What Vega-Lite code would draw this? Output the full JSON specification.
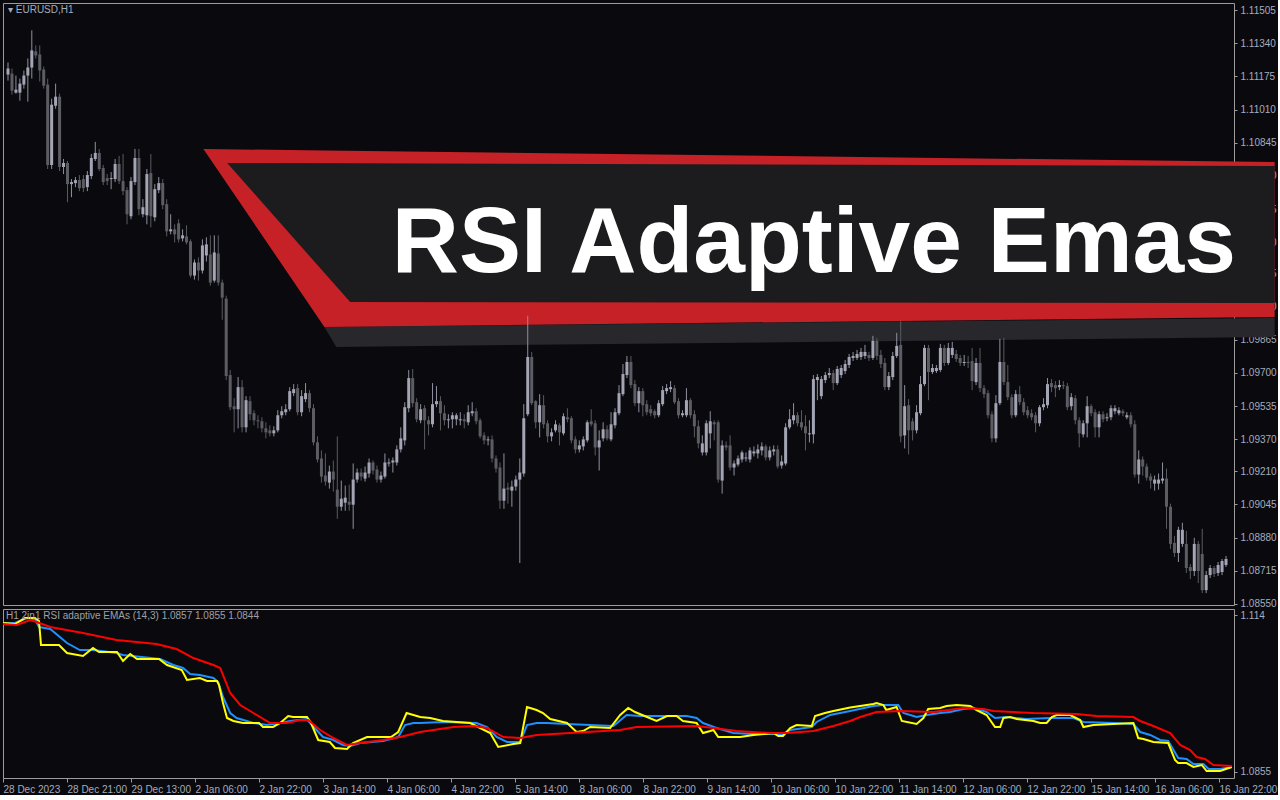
{
"$schema": "https://vega.github.io/schema/vega-lite/v6.json",
"background": "#0a0a0e",
"padding": {"left": -2, "top": 2, "right": 0, "bottom": 0},
"spacing": 4,
"bounds": "flush",
"resolve": {"scale": {"x": "independent", "y": "independent"}},
"config": {"view": {"stroke": "#9c9c9c", "strokeWidth": 1, "fill": "#0a0a0e"}, "axis": {"labelOverlap": false, "labelFlush": false, "labelBound": false}},
"datasets": {
"candles": [
{"i":0,"o":1.11184,"h":1.11244,"l":1.11154,"c":1.11214},
{"i":1,"o":1.11189,"h":1.11214,"l":1.11084,"c":1.11104},
{"i":2,"o":1.11094,"h":1.11179,"l":1.11089,"c":1.11109},
{"i":3,"o":1.11094,"h":1.11164,"l":1.11054,"c":1.11139},
{"i":4,"o":1.11134,"h":1.11204,"l":1.11114,"c":1.11179},
{"i":5,"o":1.11179,"h":1.11264,"l":1.11049,"c":1.11219},
{"i":6,"o":1.11219,"h":1.11404,"l":1.11164,"c":1.11304},
{"i":7,"o":1.11299,"h":1.11329,"l":1.11264,"c":1.11279},
{"i":8,"o":1.11284,"h":1.11329,"l":1.11149,"c":1.11204},
{"i":9,"o":1.11209,"h":1.11224,"l":1.11114,"c":1.11129},
{"i":10,"o":1.11134,"h":1.11164,"l":1.10714,"c":1.10734},
{"i":11,"o":1.10734,"h":1.11064,"l":1.10714,"c":1.11034},
{"i":12,"o":1.11029,"h":1.11139,"l":1.11014,"c":1.11074},
{"i":13,"o":1.11074,"h":1.11089,"l":1.10704,"c":1.10724},
{"i":14,"o":1.10724,"h":1.10764,"l":1.10689,"c":1.10744},
{"i":15,"o":1.10744,"h":1.10754,"l":1.10549,"c":1.10639},
{"i":16,"o":1.10639,"h":1.10664,"l":1.10574,"c":1.10649},
{"i":17,"o":1.10644,"h":1.10674,"l":1.10624,"c":1.10659},
{"i":18,"o":1.10659,"h":1.10684,"l":1.10604,"c":1.10619},
{"i":19,"o":1.10664,"h":1.10684,"l":1.10599,"c":1.10619},
{"i":20,"o":1.10624,"h":1.10704,"l":1.10604,"c":1.10684},
{"i":21,"o":1.10679,"h":1.10789,"l":1.10664,"c":1.10769},
{"i":22,"o":1.10764,"h":1.10849,"l":1.10754,"c":1.10794},
{"i":23,"o":1.10794,"h":1.10814,"l":1.10704,"c":1.10714},
{"i":24,"o":1.10719,"h":1.10734,"l":1.10634,"c":1.10649},
{"i":25,"o":1.10669,"h":1.10689,"l":1.10634,"c":1.10654},
{"i":26,"o":1.10664,"h":1.10699,"l":1.10614,"c":1.10669},
{"i":27,"o":1.10664,"h":1.10764,"l":1.10649,"c":1.10739},
{"i":28,"o":1.10739,"h":1.10779,"l":1.10639,"c":1.10654},
{"i":29,"o":1.10654,"h":1.10789,"l":1.10584,"c":1.10604},
{"i":30,"o":1.10609,"h":1.10624,"l":1.10439,"c":1.10489},
{"i":31,"o":1.10479,"h":1.10674,"l":1.10464,"c":1.10654},
{"i":32,"o":1.10649,"h":1.10814,"l":1.10634,"c":1.10769},
{"i":33,"o":1.10769,"h":1.10814,"l":1.10484,"c":1.10514},
{"i":34,"o":1.10489,"h":1.10564,"l":1.10474,"c":1.10524},
{"i":35,"o":1.10484,"h":1.10714,"l":1.10439,"c":1.10689},
{"i":36,"o":1.10694,"h":1.10789,"l":1.10424,"c":1.10479},
{"i":37,"o":1.10474,"h":1.10639,"l":1.10454,"c":1.10614},
{"i":38,"o":1.10609,"h":1.10674,"l":1.10594,"c":1.10644},
{"i":39,"o":1.10644,"h":1.10664,"l":1.10514,"c":1.10534},
{"i":40,"o":1.10539,"h":1.10564,"l":1.10379,"c":1.10404},
{"i":41,"o":1.10404,"h":1.10489,"l":1.10389,"c":1.10414},
{"i":42,"o":1.10414,"h":1.10439,"l":1.10349,"c":1.10389},
{"i":43,"o":1.10444,"h":1.10464,"l":1.10349,"c":1.10364},
{"i":44,"o":1.10369,"h":1.10414,"l":1.10354,"c":1.10384},
{"i":45,"o":1.10379,"h":1.10434,"l":1.10339,"c":1.10349},
{"i":46,"o":1.10354,"h":1.10364,"l":1.10174,"c":1.10184},
{"i":47,"o":1.10184,"h":1.10264,"l":1.10164,"c":1.10249},
{"i":48,"o":1.10249,"h":1.10274,"l":1.10159,"c":1.10209},
{"i":49,"o":1.10209,"h":1.10364,"l":1.10194,"c":1.10334},
{"i":50,"o":1.10284,"h":1.10374,"l":1.10254,"c":1.10339},
{"i":51,"o":1.10289,"h":1.10384,"l":1.10134,"c":1.10149},
{"i":52,"o":1.10159,"h":1.10384,"l":1.10149,"c":1.10299},
{"i":53,"o":1.10294,"h":1.10384,"l":1.10134,"c":1.10149},
{"i":54,"o":1.10149,"h":1.10164,"l":1.09964,"c":1.10074},
{"i":55,"o":1.10069,"h":1.10084,"l":1.09664,"c":1.09684},
{"i":56,"o":1.09689,"h":1.09714,"l":1.09514,"c":1.09529},
{"i":57,"o":1.09534,"h":1.09574,"l":1.09404,"c":1.09519},
{"i":58,"o":1.09519,"h":1.09679,"l":1.09424,"c":1.09629},
{"i":59,"o":1.09629,"h":1.09664,"l":1.09404,"c":1.09429},
{"i":60,"o":1.09429,"h":1.09584,"l":1.09404,"c":1.09564},
{"i":61,"o":1.09559,"h":1.09584,"l":1.09464,"c":1.09494},
{"i":62,"o":1.09499,"h":1.09514,"l":1.09439,"c":1.09464},
{"i":63,"o":1.09464,"h":1.09489,"l":1.09424,"c":1.09459},
{"i":64,"o":1.09459,"h":1.09479,"l":1.09404,"c":1.09424},
{"i":65,"o":1.09424,"h":1.09454,"l":1.09374,"c":1.09404},
{"i":66,"o":1.09414,"h":1.09439,"l":1.09384,"c":1.09399},
{"i":67,"o":1.09399,"h":1.09434,"l":1.09384,"c":1.09414},
{"i":68,"o":1.09414,"h":1.09514,"l":1.09404,"c":1.09489},
{"i":69,"o":1.09489,"h":1.09534,"l":1.09474,"c":1.09509},
{"i":70,"o":1.09504,"h":1.09544,"l":1.09489,"c":1.09519},
{"i":71,"o":1.09519,"h":1.09629,"l":1.09509,"c":1.09609},
{"i":72,"o":1.09599,"h":1.09644,"l":1.09584,"c":1.09619},
{"i":73,"o":1.09624,"h":1.09644,"l":1.09489,"c":1.09504},
{"i":74,"o":1.09504,"h":1.09614,"l":1.09484,"c":1.09584},
{"i":75,"o":1.09569,"h":1.09649,"l":1.09554,"c":1.09599},
{"i":76,"o":1.09599,"h":1.09614,"l":1.09504,"c":1.09524},
{"i":77,"o":1.09524,"h":1.09544,"l":1.09339,"c":1.09354},
{"i":78,"o":1.09354,"h":1.09384,"l":1.09254,"c":1.09269},
{"i":79,"o":1.09274,"h":1.09314,"l":1.09154,"c":1.09184},
{"i":80,"o":1.09189,"h":1.09299,"l":1.09139,"c":1.09159},
{"i":81,"o":1.09154,"h":1.09239,"l":1.09124,"c":1.09209},
{"i":82,"o":1.09209,"h":1.09264,"l":1.09109,"c":1.09169},
{"i":83,"o":1.09119,"h":1.09384,"l":1.08974,"c":1.09034},
{"i":84,"o":1.09034,"h":1.09164,"l":1.09014,"c":1.09074},
{"i":85,"o":1.09054,"h":1.09139,"l":1.09014,"c":1.09079},
{"i":86,"o":1.09059,"h":1.09144,"l":1.09014,"c":1.09044},
{"i":87,"o":1.09044,"h":1.09249,"l":1.08924,"c":1.09169},
{"i":88,"o":1.09169,"h":1.09224,"l":1.09154,"c":1.09204},
{"i":89,"o":1.09204,"h":1.09224,"l":1.09164,"c":1.09184},
{"i":90,"o":1.09174,"h":1.09234,"l":1.09159,"c":1.09204},
{"i":91,"o":1.09199,"h":1.09274,"l":1.09179,"c":1.09254},
{"i":92,"o":1.09254,"h":1.09264,"l":1.09194,"c":1.09214},
{"i":93,"o":1.09219,"h":1.09239,"l":1.09154,"c":1.09169},
{"i":94,"o":1.09169,"h":1.09209,"l":1.09154,"c":1.09189},
{"i":95,"o":1.09184,"h":1.09299,"l":1.09174,"c":1.09254},
{"i":96,"o":1.09249,"h":1.09274,"l":1.09234,"c":1.09254},
{"i":97,"o":1.09254,"h":1.09279,"l":1.09204,"c":1.09264},
{"i":98,"o":1.09254,"h":1.09339,"l":1.09239,"c":1.09319},
{"i":99,"o":1.09319,"h":1.09429,"l":1.09304,"c":1.09374},
{"i":100,"o":1.09364,"h":1.09554,"l":1.09339,"c":1.09529},
{"i":101,"o":1.09524,"h":1.09714,"l":1.09504,"c":1.09674},
{"i":102,"o":1.09674,"h":1.09719,"l":1.09529,"c":1.09549},
{"i":103,"o":1.09554,"h":1.09574,"l":1.09454,"c":1.09469},
{"i":104,"o":1.09464,"h":1.09544,"l":1.09449,"c":1.09519},
{"i":105,"o":1.09524,"h":1.09539,"l":1.09319,"c":1.09464},
{"i":106,"o":1.09464,"h":1.09484,"l":1.09389,"c":1.09444},
{"i":107,"o":1.09444,"h":1.09649,"l":1.09429,"c":1.09544},
{"i":108,"o":1.09544,"h":1.09634,"l":1.09529,"c":1.09559},
{"i":109,"o":1.09559,"h":1.09584,"l":1.09414,"c":1.09499},
{"i":110,"o":1.09499,"h":1.09539,"l":1.09439,"c":1.09464},
{"i":111,"o":1.09464,"h":1.09494,"l":1.09424,"c":1.09469},
{"i":112,"o":1.09469,"h":1.09504,"l":1.09424,"c":1.09489},
{"i":113,"o":1.09469,"h":1.09499,"l":1.09439,"c":1.09489},
{"i":114,"o":1.09464,"h":1.09504,"l":1.09439,"c":1.09469},
{"i":115,"o":1.09469,"h":1.09494,"l":1.09424,"c":1.09459},
{"i":116,"o":1.09454,"h":1.09539,"l":1.09439,"c":1.09504},
{"i":117,"o":1.09499,"h":1.09554,"l":1.09484,"c":1.09509},
{"i":118,"o":1.09509,"h":1.09524,"l":1.09444,"c":1.09459},
{"i":119,"o":1.09464,"h":1.09474,"l":1.09374,"c":1.09384},
{"i":120,"o":1.09389,"h":1.09404,"l":1.09344,"c":1.09364},
{"i":121,"o":1.09364,"h":1.09384,"l":1.09339,"c":1.09369},
{"i":122,"o":1.09369,"h":1.09389,"l":1.09254,"c":1.09274},
{"i":123,"o":1.09274,"h":1.09289,"l":1.09204,"c":1.09224},
{"i":124,"o":1.09229,"h":1.09254,"l":1.09024,"c":1.09064},
{"i":125,"o":1.09064,"h":1.09299,"l":1.09024,"c":1.09124},
{"i":126,"o":1.09129,"h":1.09154,"l":1.09049,"c":1.09119},
{"i":127,"o":1.09114,"h":1.09164,"l":1.09034,"c":1.09134},
{"i":128,"o":1.09134,"h":1.09189,"l":1.09114,"c":1.09169},
{"i":129,"o":1.09169,"h":1.09274,"l":1.08754,"c":1.09204},
{"i":130,"o":1.09199,"h":1.09544,"l":1.09184,"c":1.09474},
{"i":131,"o":1.09494,"h":1.09984,"l":1.09484,"c":1.09779},
{"i":132,"o":1.09779,"h":1.09804,"l":1.09539,"c":1.09549},
{"i":133,"o":1.09559,"h":1.09564,"l":1.09424,"c":1.09454},
{"i":134,"o":1.09454,"h":1.09594,"l":1.09379,"c":1.09539},
{"i":135,"o":1.09539,"h":1.09589,"l":1.09424,"c":1.09444},
{"i":136,"o":1.09449,"h":1.09464,"l":1.09354,"c":1.09384},
{"i":137,"o":1.09384,"h":1.09424,"l":1.09359,"c":1.09404},
{"i":138,"o":1.09414,"h":1.09464,"l":1.09404,"c":1.09444},
{"i":139,"o":1.09439,"h":1.09449,"l":1.09339,"c":1.09404},
{"i":140,"o":1.09399,"h":1.09499,"l":1.09389,"c":1.09484},
{"i":141,"o":1.09479,"h":1.09524,"l":1.09454,"c":1.09469},
{"i":142,"o":1.09474,"h":1.09484,"l":1.09349,"c":1.09364},
{"i":143,"o":1.09369,"h":1.09384,"l":1.09299,"c":1.09319},
{"i":144,"o":1.09319,"h":1.09364,"l":1.09304,"c":1.09339},
{"i":145,"o":1.09334,"h":1.09384,"l":1.09314,"c":1.09369},
{"i":146,"o":1.09364,"h":1.09464,"l":1.09354,"c":1.09454},
{"i":147,"o":1.09459,"h":1.09519,"l":1.09434,"c":1.09444},
{"i":148,"o":1.09449,"h":1.09464,"l":1.09289,"c":1.09329},
{"i":149,"o":1.09329,"h":1.09414,"l":1.09214,"c":1.09364},
{"i":150,"o":1.09374,"h":1.09454,"l":1.09359,"c":1.09419},
{"i":151,"o":1.09419,"h":1.09439,"l":1.09364,"c":1.09374},
{"i":152,"o":1.09369,"h":1.09504,"l":1.09359,"c":1.09444},
{"i":153,"o":1.09439,"h":1.09524,"l":1.09424,"c":1.09504},
{"i":154,"o":1.09499,"h":1.09639,"l":1.09489,"c":1.09599},
{"i":155,"o":1.09594,"h":1.09744,"l":1.09584,"c":1.09694},
{"i":156,"o":1.09689,"h":1.09784,"l":1.09674,"c":1.09754},
{"i":157,"o":1.09754,"h":1.09784,"l":1.09624,"c":1.09639},
{"i":158,"o":1.09644,"h":1.09664,"l":1.09534,"c":1.09549},
{"i":159,"o":1.09549,"h":1.09629,"l":1.09504,"c":1.09609},
{"i":160,"o":1.09609,"h":1.09624,"l":1.09484,"c":1.09539},
{"i":161,"o":1.09544,"h":1.09564,"l":1.09489,"c":1.09504},
{"i":162,"o":1.09519,"h":1.09539,"l":1.09484,"c":1.09499},
{"i":163,"o":1.09509,"h":1.09519,"l":1.09474,"c":1.09489},
{"i":164,"o":1.09489,"h":1.09564,"l":1.09479,"c":1.09549},
{"i":165,"o":1.09544,"h":1.09634,"l":1.09534,"c":1.09614},
{"i":166,"o":1.09609,"h":1.09644,"l":1.09594,"c":1.09624},
{"i":167,"o":1.09619,"h":1.09659,"l":1.09604,"c":1.09629},
{"i":168,"o":1.09624,"h":1.09639,"l":1.09544,"c":1.09554},
{"i":169,"o":1.09559,"h":1.09574,"l":1.09474,"c":1.09489},
{"i":170,"o":1.09489,"h":1.09514,"l":1.09479,"c":1.09499},
{"i":171,"o":1.09489,"h":1.09624,"l":1.09479,"c":1.09564},
{"i":172,"o":1.09564,"h":1.09574,"l":1.09474,"c":1.09489},
{"i":173,"o":1.09494,"h":1.09514,"l":1.09379,"c":1.09434},
{"i":174,"o":1.09434,"h":1.09464,"l":1.09324,"c":1.09349},
{"i":175,"o":1.09304,"h":1.09389,"l":1.09289,"c":1.09349},
{"i":176,"o":1.09304,"h":1.09464,"l":1.09289,"c":1.09449},
{"i":177,"o":1.09399,"h":1.09509,"l":1.09324,"c":1.09459},
{"i":178,"o":1.09454,"h":1.09464,"l":1.09364,"c":1.09444},
{"i":179,"o":1.09454,"h":1.09464,"l":1.09154,"c":1.09169},
{"i":180,"o":1.09164,"h":1.09364,"l":1.09099,"c":1.09339},
{"i":181,"o":1.09339,"h":1.09359,"l":1.09314,"c":1.09329},
{"i":182,"o":1.09339,"h":1.09389,"l":1.09214,"c":1.09229},
{"i":183,"o":1.09229,"h":1.09264,"l":1.09189,"c":1.09249},
{"i":184,"o":1.09244,"h":1.09289,"l":1.09234,"c":1.09274},
{"i":185,"o":1.09269,"h":1.09314,"l":1.09254,"c":1.09304},
{"i":186,"o":1.09274,"h":1.09304,"l":1.09259,"c":1.09279},
{"i":187,"o":1.09269,"h":1.09329,"l":1.09254,"c":1.09314},
{"i":188,"o":1.09299,"h":1.09334,"l":1.09284,"c":1.09309},
{"i":189,"o":1.09299,"h":1.09344,"l":1.09274,"c":1.09319},
{"i":190,"o":1.09314,"h":1.09354,"l":1.09289,"c":1.09334},
{"i":191,"o":1.09334,"h":1.09344,"l":1.09264,"c":1.09279},
{"i":192,"o":1.09279,"h":1.09334,"l":1.09264,"c":1.09314},
{"i":193,"o":1.09309,"h":1.09339,"l":1.09289,"c":1.09319},
{"i":194,"o":1.09319,"h":1.09339,"l":1.09224,"c":1.09234},
{"i":195,"o":1.09239,"h":1.09289,"l":1.09224,"c":1.09259},
{"i":196,"o":1.09249,"h":1.09449,"l":1.09239,"c":1.09429},
{"i":197,"o":1.09429,"h":1.09519,"l":1.09419,"c":1.09469},
{"i":198,"o":1.09464,"h":1.09549,"l":1.09444,"c":1.09489},
{"i":199,"o":1.09489,"h":1.09504,"l":1.09434,"c":1.09449},
{"i":200,"o":1.09454,"h":1.09514,"l":1.09414,"c":1.09429},
{"i":201,"o":1.09434,"h":1.09489,"l":1.09314,"c":1.09399},
{"i":202,"o":1.09394,"h":1.09464,"l":1.09354,"c":1.09399},
{"i":203,"o":1.09394,"h":1.09689,"l":1.09349,"c":1.09669},
{"i":204,"o":1.09664,"h":1.09694,"l":1.09564,"c":1.09679},
{"i":205,"o":1.09584,"h":1.09684,"l":1.09569,"c":1.09669},
{"i":206,"o":1.09664,"h":1.09704,"l":1.09649,"c":1.09689},
{"i":207,"o":1.09689,"h":1.09724,"l":1.09674,"c":1.09699},
{"i":208,"o":1.09699,"h":1.09714,"l":1.09614,"c":1.09649},
{"i":209,"o":1.09649,"h":1.09734,"l":1.09639,"c":1.09719},
{"i":210,"o":1.09689,"h":1.09739,"l":1.09674,"c":1.09724},
{"i":211,"o":1.09709,"h":1.09764,"l":1.09694,"c":1.09744},
{"i":212,"o":1.09739,"h":1.09794,"l":1.09724,"c":1.09779},
{"i":213,"o":1.09774,"h":1.09804,"l":1.09759,"c":1.09784},
{"i":214,"o":1.09774,"h":1.09814,"l":1.09764,"c":1.09794},
{"i":215,"o":1.09779,"h":1.09824,"l":1.09764,"c":1.09804},
{"i":216,"o":1.09784,"h":1.09839,"l":1.09769,"c":1.09804},
{"i":217,"o":1.09789,"h":1.09804,"l":1.09759,"c":1.09774},
{"i":218,"o":1.09774,"h":1.09884,"l":1.09764,"c":1.09859},
{"i":219,"o":1.09859,"h":1.09874,"l":1.09764,"c":1.09784},
{"i":220,"o":1.09789,"h":1.09814,"l":1.09724,"c":1.09744},
{"i":221,"o":1.09749,"h":1.09774,"l":1.09614,"c":1.09629},
{"i":222,"o":1.09629,"h":1.09704,"l":1.09614,"c":1.09684},
{"i":223,"o":1.09679,"h":1.09804,"l":1.09664,"c":1.09784},
{"i":224,"o":1.09784,"h":1.09899,"l":1.09774,"c":1.09834},
{"i":225,"o":1.09839,"h":1.09959,"l":1.09354,"c":1.09384},
{"i":226,"o":1.09389,"h":1.09639,"l":1.09324,"c":1.09534},
{"i":227,"o":1.09539,"h":1.09569,"l":1.09294,"c":1.09414},
{"i":228,"o":1.09459,"h":1.09474,"l":1.09364,"c":1.09414},
{"i":229,"o":1.09414,"h":1.09539,"l":1.09399,"c":1.09504},
{"i":230,"o":1.09499,"h":1.09684,"l":1.09489,"c":1.09644},
{"i":231,"o":1.09644,"h":1.09839,"l":1.09634,"c":1.09824},
{"i":232,"o":1.09824,"h":1.09839,"l":1.09564,"c":1.09704},
{"i":233,"o":1.09704,"h":1.09744,"l":1.09694,"c":1.09724},
{"i":234,"o":1.09709,"h":1.09739,"l":1.09699,"c":1.09724},
{"i":235,"o":1.09714,"h":1.09844,"l":1.09704,"c":1.09824},
{"i":236,"o":1.09824,"h":1.09839,"l":1.09734,"c":1.09749},
{"i":237,"o":1.09749,"h":1.09849,"l":1.09739,"c":1.09824},
{"i":238,"o":1.09789,"h":1.09854,"l":1.09774,"c":1.09824},
{"i":239,"o":1.09794,"h":1.09814,"l":1.09754,"c":1.09769},
{"i":240,"o":1.09774,"h":1.09789,"l":1.09734,"c":1.09749},
{"i":241,"o":1.09749,"h":1.09789,"l":1.09734,"c":1.09754},
{"i":242,"o":1.09754,"h":1.09784,"l":1.09724,"c":1.09749},
{"i":243,"o":1.09759,"h":1.09824,"l":1.09614,"c":1.09659},
{"i":244,"o":1.09654,"h":1.09774,"l":1.09639,"c":1.09749},
{"i":245,"o":1.09749,"h":1.09824,"l":1.09604,"c":1.09624},
{"i":246,"o":1.09624,"h":1.09639,"l":1.09574,"c":1.09594},
{"i":247,"o":1.09599,"h":1.09614,"l":1.09474,"c":1.09489},
{"i":248,"o":1.09494,"h":1.09509,"l":1.09354,"c":1.09374},
{"i":249,"o":1.09374,"h":1.09589,"l":1.09354,"c":1.09549},
{"i":250,"o":1.09549,"h":1.09869,"l":1.09539,"c":1.09754},
{"i":251,"o":1.09754,"h":1.09874,"l":1.09639,"c":1.09654},
{"i":252,"o":1.09654,"h":1.09739,"l":1.09564,"c":1.09579},
{"i":253,"o":1.09579,"h":1.09594,"l":1.09474,"c":1.09489},
{"i":254,"o":1.09489,"h":1.09614,"l":1.09479,"c":1.09594},
{"i":255,"o":1.09594,"h":1.09634,"l":1.09539,"c":1.09554},
{"i":256,"o":1.09554,"h":1.09574,"l":1.09489,"c":1.09504},
{"i":257,"o":1.09514,"h":1.09534,"l":1.09474,"c":1.09489},
{"i":258,"o":1.09499,"h":1.09519,"l":1.09464,"c":1.09479},
{"i":259,"o":1.09489,"h":1.09504,"l":1.09404,"c":1.09449},
{"i":260,"o":1.09449,"h":1.09539,"l":1.09434,"c":1.09529},
{"i":261,"o":1.09529,"h":1.09574,"l":1.09514,"c":1.09544},
{"i":262,"o":1.09539,"h":1.09674,"l":1.09524,"c":1.09644},
{"i":263,"o":1.09649,"h":1.09669,"l":1.09604,"c":1.09629},
{"i":264,"o":1.09639,"h":1.09659,"l":1.09579,"c":1.09624},
{"i":265,"o":1.09629,"h":1.09664,"l":1.09614,"c":1.09639},
{"i":266,"o":1.09639,"h":1.09659,"l":1.09619,"c":1.09634},
{"i":267,"o":1.09634,"h":1.09649,"l":1.09514,"c":1.09529},
{"i":268,"o":1.09534,"h":1.09599,"l":1.09514,"c":1.09579},
{"i":269,"o":1.09574,"h":1.09589,"l":1.09444,"c":1.09464},
{"i":270,"o":1.09464,"h":1.09479,"l":1.09329,"c":1.09399},
{"i":271,"o":1.09394,"h":1.09464,"l":1.09379,"c":1.09449},
{"i":272,"o":1.09449,"h":1.09584,"l":1.09379,"c":1.09534},
{"i":273,"o":1.09534,"h":1.09544,"l":1.09484,"c":1.09499},
{"i":274,"o":1.09504,"h":1.09519,"l":1.09379,"c":1.09429},
{"i":275,"o":1.09429,"h":1.09509,"l":1.09379,"c":1.09494},
{"i":276,"o":1.09494,"h":1.09509,"l":1.09454,"c":1.09469},
{"i":277,"o":1.09474,"h":1.09499,"l":1.09459,"c":1.09479},
{"i":278,"o":1.09479,"h":1.09539,"l":1.09464,"c":1.09524},
{"i":279,"o":1.09509,"h":1.09539,"l":1.09494,"c":1.09524},
{"i":280,"o":1.09499,"h":1.09529,"l":1.09489,"c":1.09514},
{"i":281,"o":1.09509,"h":1.09519,"l":1.09484,"c":1.09499},
{"i":282,"o":1.09479,"h":1.09504,"l":1.09469,"c":1.09489},
{"i":283,"o":1.09489,"h":1.09504,"l":1.09429,"c":1.09444},
{"i":284,"o":1.09444,"h":1.09464,"l":1.09179,"c":1.09194},
{"i":285,"o":1.09194,"h":1.09314,"l":1.09149,"c":1.09269},
{"i":286,"o":1.09269,"h":1.09284,"l":1.09189,"c":1.09234},
{"i":287,"o":1.09234,"h":1.09249,"l":1.09164,"c":1.09179},
{"i":288,"o":1.09184,"h":1.09199,"l":1.09124,"c":1.09164},
{"i":289,"o":1.09149,"h":1.09189,"l":1.09114,"c":1.09169},
{"i":290,"o":1.09149,"h":1.09199,"l":1.09119,"c":1.09169},
{"i":291,"o":1.09164,"h":1.09254,"l":1.09149,"c":1.09174},
{"i":292,"o":1.09174,"h":1.09224,"l":1.08924,"c":1.09034},
{"i":293,"o":1.09034,"h":1.09049,"l":1.08824,"c":1.08849},
{"i":294,"o":1.08854,"h":1.08889,"l":1.08784,"c":1.08804},
{"i":295,"o":1.08804,"h":1.08934,"l":1.08759,"c":1.08919},
{"i":296,"o":1.08849,"h":1.08954,"l":1.08834,"c":1.08919},
{"i":297,"o":1.08849,"h":1.08914,"l":1.08704,"c":1.08729},
{"i":298,"o":1.08734,"h":1.08749,"l":1.08674,"c":1.08714},
{"i":299,"o":1.08714,"h":1.08879,"l":1.08689,"c":1.08849},
{"i":300,"o":1.08849,"h":1.08864,"l":1.08654,"c":1.08714},
{"i":301,"o":1.08799,"h":1.08924,"l":1.08604,"c":1.08619},
{"i":302,"o":1.08619,"h":1.08714,"l":1.08604,"c":1.08694},
{"i":303,"o":1.08694,"h":1.08744,"l":1.08679,"c":1.08729},
{"i":304,"o":1.08729,"h":1.08739,"l":1.08684,"c":1.08699},
{"i":305,"o":1.08704,"h":1.08759,"l":1.08689,"c":1.08744},
{"i":306,"o":1.08709,"h":1.08774,"l":1.08694,"c":1.08764},
{"i":307,"o":1.08744,"h":1.08789,"l":1.08734,"c":1.08774}
],
"yellow": [
{"i":0,"v":1.11254},{"i":3,"v":1.11236},{"i":5.5,"v":1.11345},{"i":8,"v":1.11345},{"i":9,"v":1.11291},{"i":9.5,"v":1.10855},{"i":14,"v":1.10855},{"i":16,"v":1.1071},{"i":20,"v":1.10655},{"i":22.5,"v":1.10801},{"i":24,"v":1.10728},{"i":28.5,"v":1.10728},{"i":30,"v":1.10565},{"i":31.8,"v":1.10692},{"i":33.5,"v":1.10601},{"i":39,"v":1.10601},{"i":41,"v":1.10492},{"i":44.7,"v":1.10401},{"i":46,"v":1.1022},{"i":49.2,"v":1.10256},{"i":51,"v":1.10202},{"i":53.5,"v":1.10202},{"i":54,"v":1.10129},{"i":55,"v":1.09802},{"i":56,"v":1.0953},{"i":57.6,"v":1.09476},{"i":60,"v":1.09439},{"i":64,"v":1.09439},{"i":65,"v":1.09367},{"i":67.5,"v":1.09367},{"i":69.3,"v":1.09439},{"i":71.3,"v":1.09566},{"i":72.5,"v":1.09548},{"i":76,"v":1.09548},{"i":77,"v":1.09439},{"i":78.8,"v":1.09131},{"i":81.7,"v":1.09095},{"i":83,"v":1.08986},{"i":86,"v":1.08968},{"i":87.5,"v":1.09076},{"i":91,"v":1.09185},{"i":97,"v":1.09185},{"i":98.8,"v":1.09276},{"i":100.9,"v":1.09621},{"i":104.3,"v":1.09548},{"i":106.8,"v":1.0953},{"i":110,"v":1.09476},{"i":116.8,"v":1.09439},{"i":119.3,"v":1.09349},{"i":121.8,"v":1.09258},{"i":123.8,"v":1.09004},{"i":127.6,"v":1.09058},{"i":129.3,"v":1.09076},{"i":131,"v":1.0973},{"i":133.4,"v":1.09675},{"i":135,"v":1.09621},{"i":136.8,"v":1.09512},{"i":141,"v":1.09439},{"i":143.4,"v":1.09276},{"i":145,"v":1.09294},{"i":146.8,"v":1.09367},{"i":151.8,"v":1.09349},{"i":154.3,"v":1.09585},{"i":156.3,"v":1.09712},{"i":158,"v":1.09639},{"i":161,"v":1.09548},{"i":163.4,"v":1.09476},{"i":166,"v":1.09566},{"i":168.4,"v":1.09566},{"i":170,"v":1.09476},{"i":173.4,"v":1.09439},{"i":175,"v":1.09258},{"i":176.8,"v":1.09294},{"i":177.6,"v":1.09312},{"i":178.8,"v":1.09185},{"i":184.3,"v":1.09185},{"i":187.6,"v":1.09222},{"i":192.6,"v":1.09258},{"i":193.8,"v":1.09203},{"i":195,"v":1.09203},{"i":196.8,"v":1.09349},{"i":198.4,"v":1.09403},{"i":202.2,"v":1.09385},{"i":203,"v":1.09566},{"i":205.5,"v":1.09621},{"i":207.6,"v":1.09657},{"i":211.8,"v":1.09721},{"i":217.6,"v":1.09784},{"i":218.4,"v":1.09802},{"i":220.1,"v":1.09766},{"i":220.8,"v":1.09675},{"i":223.4,"v":1.0973},{"i":224.7,"v":1.09476},{"i":228.4,"v":1.09421},{"i":230.1,"v":1.0953},{"i":231.3,"v":1.09693},{"i":234.3,"v":1.09712},{"i":235.9,"v":1.09748},{"i":238.4,"v":1.09766},{"i":241.8,"v":1.09748},{"i":243.4,"v":1.09675},{"i":245.9,"v":1.09585},{"i":248,"v":1.09367},{"i":249.3,"v":1.09367},{"i":250.1,"v":1.0953},{"i":251.8,"v":1.09548},{"i":253.4,"v":1.09512},{"i":257.6,"v":1.09476},{"i":259.3,"v":1.09439},{"i":260.9,"v":1.09439},{"i":262.2,"v":1.09548},{"i":263.4,"v":1.09585},{"i":266.8,"v":1.09585},{"i":269.3,"v":1.09494},{"i":270.1,"v":1.09367},{"i":272.6,"v":1.09403},{"i":277.6,"v":1.09421},{"i":282.6,"v":1.09439},{"i":283.8,"v":1.09167},{"i":285.1,"v":1.09149},{"i":287.6,"v":1.09095},{"i":291.3,"v":1.09076},{"i":293,"v":1.08768},{"i":293.8,"v":1.08713},{"i":295.9,"v":1.08713},{"i":297.6,"v":1.08641},{"i":299.7,"v":1.08677},{"i":300.9,"v":1.08568},{"i":304.3,"v":1.08568},{"i":307.2,"v":1.08641}
],
"blue": [
{"i":0,"v":1.11254},{"i":3,"v":1.11254},{"i":6,"v":1.11345},{"i":8,"v":1.11327},{"i":9,"v":1.11182},{"i":11.8,"v":1.11145},{"i":16,"v":1.10891},{"i":19.2,"v":1.10764},{"i":22.6,"v":1.10764},{"i":28.4,"v":1.1071},{"i":30,"v":1.10674},{"i":39.3,"v":1.10601},{"i":42.6,"v":1.10492},{"i":45,"v":1.10438},{"i":46.8,"v":1.10329},{"i":49.2,"v":1.10311},{"i":52.6,"v":1.10256},{"i":53.8,"v":1.10184},{"i":55,"v":1.09911},{"i":56.8,"v":1.09621},{"i":58.4,"v":1.0953},{"i":62.6,"v":1.09439},{"i":66,"v":1.09403},{"i":69.3,"v":1.09439},{"i":71.8,"v":1.09476},{"i":75.9,"v":1.09512},{"i":78.4,"v":1.09312},{"i":80,"v":1.09185},{"i":82.6,"v":1.09131},{"i":85,"v":1.0904},{"i":86.8,"v":1.09022},{"i":89.3,"v":1.09076},{"i":95,"v":1.09113},{"i":98.8,"v":1.09185},{"i":100.5,"v":1.09403},{"i":102.6,"v":1.09439},{"i":104.3,"v":1.09439},{"i":110,"v":1.09458},{"i":118.4,"v":1.09439},{"i":121,"v":1.09367},{"i":123.4,"v":1.09185},{"i":126,"v":1.09095},{"i":129.3,"v":1.09095},{"i":131,"v":1.09403},{"i":133.4,"v":1.09439},{"i":136,"v":1.09439},{"i":141,"v":1.09421},{"i":152.6,"v":1.09385},{"i":155.9,"v":1.09585},{"i":159.3,"v":1.09566},{"i":170.9,"v":1.09566},{"i":173.4,"v":1.0953},{"i":175,"v":1.09439},{"i":178.4,"v":1.09349},{"i":182.6,"v":1.09258},{"i":187.6,"v":1.0924},{"i":195,"v":1.0924},{"i":196.8,"v":1.09312},{"i":202.2,"v":1.09367},{"i":203.4,"v":1.09458},{"i":206.8,"v":1.09585},{"i":211.8,"v":1.09657},{"i":217.6,"v":1.09748},{"i":220.1,"v":1.09766},{"i":223.8,"v":1.09766},{"i":225.1,"v":1.09621},{"i":228.4,"v":1.09548},{"i":230.9,"v":1.09585},{"i":234.3,"v":1.09621},{"i":236.8,"v":1.09639},{"i":240.1,"v":1.09693},{"i":242.6,"v":1.09712},{"i":245.9,"v":1.09639},{"i":248,"v":1.0953},{"i":250.9,"v":1.09548},{"i":255.9,"v":1.09512},{"i":261.8,"v":1.0953},{"i":267.6,"v":1.0953},{"i":270.1,"v":1.09458},{"i":277.6,"v":1.09439},{"i":282.6,"v":1.09421},{"i":284.3,"v":1.09276},{"i":286.8,"v":1.09222},{"i":289.3,"v":1.09131},{"i":291.3,"v":1.09113},{"i":293.8,"v":1.08804},{"i":295.9,"v":1.08786},{"i":297.6,"v":1.08695},{"i":300.1,"v":1.08695},{"i":301.4,"v":1.08604},{"i":304.3,"v":1.08604},{"i":307.2,"v":1.08641}
],
"red": [
{"i":0,"v":1.11236},{"i":3.4,"v":1.11218},{"i":6.8,"v":1.11309},{"i":8.4,"v":1.11273},{"i":11.8,"v":1.11182},{"i":20,"v":1.11073},{"i":28.4,"v":1.10946},{"i":38.4,"v":1.10873},{"i":43.4,"v":1.10782},{"i":47.6,"v":1.10619},{"i":52.6,"v":1.10492},{"i":54.3,"v":1.10438},{"i":56.8,"v":1.09984},{"i":59.3,"v":1.09766},{"i":62.6,"v":1.09621},{"i":66.8,"v":1.09439},{"i":71,"v":1.09439},{"i":74.3,"v":1.09494},{"i":76.3,"v":1.09494},{"i":79.3,"v":1.09312},{"i":82.6,"v":1.09167},{"i":86,"v":1.0904},{"i":89.3,"v":1.09076},{"i":95,"v":1.09131},{"i":99.3,"v":1.09185},{"i":104.3,"v":1.09276},{"i":112.6,"v":1.09367},{"i":117.6,"v":1.09385},{"i":121,"v":1.09349},{"i":125.1,"v":1.09185},{"i":129.3,"v":1.09167},{"i":133.4,"v":1.09222},{"i":141.8,"v":1.09258},{"i":154.3,"v":1.09312},{"i":158.4,"v":1.09367},{"i":173.4,"v":1.09385},{"i":177.6,"v":1.09349},{"i":183.4,"v":1.09294},{"i":191.8,"v":1.09258},{"i":195.9,"v":1.09258},{"i":202.6,"v":1.09294},{"i":207.6,"v":1.09385},{"i":211.8,"v":1.09476},{"i":214.3,"v":1.09548},{"i":218.4,"v":1.09639},{"i":224.3,"v":1.09657},{"i":232.6,"v":1.09639},{"i":240.1,"v":1.09712},{"i":245.1,"v":1.09693},{"i":247.6,"v":1.09657},{"i":257.6,"v":1.09621},{"i":268.4,"v":1.09603},{"i":273.4,"v":1.09566},{"i":282.6,"v":1.09548},{"i":284.3,"v":1.09476},{"i":287.6,"v":1.09385},{"i":291.8,"v":1.09258},{"i":294.3,"v":1.0904},{"i":296.8,"v":1.08949},{"i":298.4,"v":1.08822},{"i":300.5,"v":1.08786},{"i":302.6,"v":1.08677},{"i":307.2,"v":1.08659}
]
},
"vconcat": [
{
"width": 1231,
"height": 602,
"title": {"text": "▾  EURUSD,H1", "anchor": "start", "offset": -12, "dx": 5, "font": "Liberation Sans", "fontSize": 10, "fontWeight": "normal", "color": "#a4acbd"},
"layer": [
{
"data": {"values": [{"i": 79.75, "top": 1.09928, "bot": 1.09928}, {"i": 82.75, "top": 1.09929, "bot": 1.09829}, {"i": 319.25, "top": 1.09973, "bot": 1.09878}]},
"mark": {"type": "area", "color": "#27272c", "clip": false},
"encoding": {
"x": {"field": "i", "type": "quantitative", "scale": {"domain": [0, 307.75], "nice": false, "zero": false}, "axis": null},
"y": {"field": "top", "type": "quantitative", "scale": {"domain": [1.08545, 1.1154], "nice": false, "zero": false},
"axis": {"orient": "right", "title": null, "values": [1.0855, 1.08715, 1.0888, 1.09045, 1.0921, 1.0937, 1.09535, 1.097, 1.09865, 1.1003, 1.10195, 1.1035, 1.10515, 1.1068, 1.10845, 1.1101, 1.11175, 1.1134, 1.11505], "tickCount": 40, "format": ".5f", "domain": false, "grid": false, "tickSize": 3, "tickColor": "#9c9c9c", "labelColor": "#a4acbd", "labelFont": "Liberation Sans", "labelFontSize": 10, "labelPadding": 3, "labelOverlap": false, "labelBound": false, "labelFlush": false}},
"y2": {"field": "bot"}
}
},
{
"data": {"values": [{"i": 49.25, "top": 1.10814, "bot": 1.10814}, {"i": 79.75, "top": 1.10806, "bot": 1.09928}, {"i": 319.25, "top": 1.10749, "bot": 1.09978}]},
"mark": {"type": "area", "color": "#c62127", "clip": false},
"encoding": {
"x": {"field": "i", "type": "quantitative", "axis": null},
"y": {"field": "top", "type": "quantitative"},
"y2": {"field": "bot"}
}
},
{
"data": {"values": [{"i": 55.25, "top": 1.10744, "bot": 1.10744}, {"i": 86.25, "top": 1.10743, "bot": 1.10052}, {"i": 319.25, "top": 1.10729, "bot": 1.10048}]},
"mark": {"type": "area", "color": "#1c1c1e", "clip": false},
"encoding": {
"x": {"field": "i", "type": "quantitative", "axis": null},
"y": {"field": "top", "type": "quantitative"},
"y2": {"field": "bot"}
}
},
{
"data": {"name": "candles"},
"mark": {"type": "rule", "strokeWidth": 1, "clip": false},
"encoding": {
"x": {"field": "i", "type": "quantitative", "axis": null},
"y": {"field": "l", "type": "quantitative"},
"y2": {"field": "h"},
"color": {"condition": {"test": "datum.c >= datum.o", "value": "#8e90a0"}, "value": "#5a5a61"}
}
},
{
"data": {"name": "candles"},
"mark": {"type": "bar", "size": 3, "clip": false},
"encoding": {
"x": {"field": "i", "type": "quantitative", "axis": null},
"y": {"field": "o", "type": "quantitative"},
"y2": {"field": "c"},
"color": {"condition": {"test": "datum.c >= datum.o", "value": "#a3a5b5"}, "value": "#5c5c63"}
}
},
{
"data": {"values": [{"i": 96.75, "p": 1.10202, "t": "RSI Adaptive Emas"}]},
"mark": {"type": "text", "align": "left", "baseline": "alphabetic", "font": "Liberation Sans", "fontWeight": "bold", "fontSize": 93, "color": "#ffffff", "clip": false},
"encoding": {
"x": {"field": "i", "type": "quantitative", "axis": null},
"y": {"field": "p", "type": "quantitative"},
"text": {"field": "t"}
}
}
]
},
{
"width": 1231,
"height": 169,
"title": {"text": "H1 2in1 RSI adaptive EMAs (14,3) 1.0857 1.0855 1.0844", "anchor": "start", "offset": -12, "dx": 7, "font": "Liberation Sans", "fontSize": 10, "fontWeight": "normal", "color": "#a0a0a4"},
"layer": [
{
"data": {"name": "blue"},
"mark": {"type": "line", "color": "#1e90ff", "strokeWidth": 2},
"encoding": {
"x": {"field": "i", "type": "quantitative", "scale": {"domain": [0, 307.75], "nice": false, "zero": false},
"axis": {"orient": "bottom", "title": null, "values": [0, 16, 32, 48, 64, 80, 96, 112, 128, 144, 160, 176, 192, 208, 224, 240, 256, 272, 288, 304], "tickCount": 40,
"labelExpr": "['28 Dec 2023','28 Dec 21:00','29 Dec 13:00','2 Jan 06:00','2 Jan 22:00','3 Jan 14:00','4 Jan 06:00','4 Jan 22:00','5 Jan 14:00','8 Jan 06:00','8 Jan 22:00','9 Jan 14:00','10 Jan 06:00','10 Jan 22:00','11 Jan 14:00','12 Jan 06:00','12 Jan 22:00','15 Jan 14:00','16 Jan 06:00','16 Jan 22:00'][round(datum.value/16)]",
"domain": false, "grid": false, "tickSize": 4, "tickColor": "#9c9c9c", "labelColor": "#a4acbd", "labelFont": "Liberation Sans", "labelFontSize": 10, "labelAlign": "left", "labelPadding": 2, "labelOverlap": false, "labelBound": false, "labelFlush": false}},
"y": {"field": "v", "type": "quantitative", "scale": {"domain": [1.08441, 1.11509], "nice": false, "zero": false},
"axis": {"orient": "right", "title": null, "values": [1.0855, 1.114], "format": ".4~f", "domain": false, "grid": false, "tickSize": 3, "tickColor": "#9c9c9c", "labelColor": "#a4acbd", "labelFont": "Liberation Sans", "labelFontSize": 10, "labelPadding": 3, "labelOverlap": false, "labelBound": false, "labelFlush": false}}
}
},
{
"data": {"name": "yellow"},
"mark": {"type": "line", "color": "#ffff00", "strokeWidth": 2},
"encoding": {
"x": {"field": "i", "type": "quantitative"},
"y": {"field": "v", "type": "quantitative"}
}
},
{
"data": {"name": "red"},
"mark": {"type": "line", "color": "#ff0000", "strokeWidth": 2},
"encoding": {
"x": {"field": "i", "type": "quantitative"},
"y": {"field": "v", "type": "quantitative"}
}
}
]
}
]
}
